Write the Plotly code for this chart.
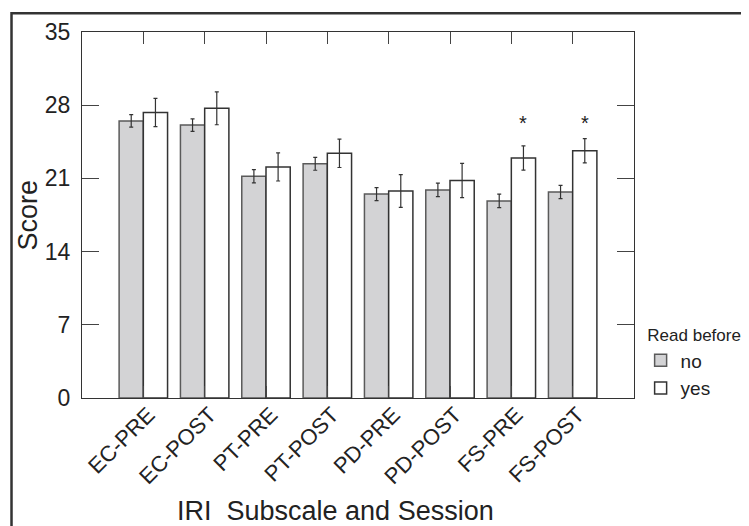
import plotly.graph_objects as go

categories = ["EC-PRE", "EC-POST", "PT-PRE", "PT-POST", "PD-PRE", "PD-POST", "FS-PRE", "FS-POST"]
no_vals = [26.5, 26.1, 21.2, 22.4, 19.5, 19.9, 18.85, 19.7]
no_err = [0.6, 0.6, 0.63, 0.62, 0.62, 0.65, 0.64, 0.63]
yes_vals = [27.3, 27.7, 22.1, 23.4, 19.8, 20.8, 22.95, 23.65]
yes_err = [1.35, 1.57, 1.35, 1.36, 1.57, 1.63, 1.16, 1.16]
significant = [False, False, False, False, False, False, True, True]
star_level = 26.3
y_ticks = [0, 7, 14, 21, 28, 35]

FONT = "Liberation Sans, Arial, Helvetica, sans-serif"
TXT = "#222222"

fig = go.Figure()
fig.add_trace(go.Bar(
    name="no", x=categories, y=no_vals,
    marker=dict(color="#d3d3d5", line=dict(color="#5a5a5a", width=1.5)),
    error_y=dict(type="data", array=no_err, color="#333333", thickness=1.2, width=2),
))
fig.add_trace(go.Bar(
    name="yes", x=categories, y=yes_vals,
    marker=dict(color="#ffffff", line=dict(color="#333333", width=1.5)),
    error_y=dict(type="data", array=yes_err, color="#333333", thickness=1.2, width=2),
))

bargap = 0.21
half = (1 - bargap) / 4
annotations = []
for i, sig in enumerate(significant):
    if sig:
        annotations.append(dict(x=i + half, y=star_level, xref="x", yref="y", text="*",
                                showarrow=False, font=dict(size=20, color=TXT, family=FONT),
                                xanchor="center", yanchor="middle"))

annotations.append(dict(text="Score", x=-0.097, y=0.5, xref="paper", yref="paper",
                        textangle=-90, showarrow=False, xanchor="center", yanchor="middle",
                        font=dict(size=27, color=TXT, family=FONT)))
annotations.append(dict(text="IRI\u00a0 Subscale and Session", x=0.4585, y=-0.31,
                        xref="paper", yref="paper", showarrow=False,
                        xanchor="center", yanchor="middle",
                        font=dict(size=27, color=TXT, family=FONT)))

fig.update_layout(
    width=741, height=518,
    margin=dict(l=73.5, r=115.3, t=24, b=127.7, autoexpand=False),
    paper_bgcolor="white", plot_bgcolor="white",
    barmode="group", bargap=bargap, bargroupgap=0,
    font=dict(family=FONT, color=TXT),
    showlegend=True,
    legend=dict(
        title=dict(text="\u00a0Read before", font=dict(size=17, color=TXT, family=FONT)),
        font=dict(size=19, color=TXT, family=FONT),
        x=1.012, y=0.095, xanchor="left", yanchor="middle",
        bgcolor="rgba(0,0,0,0)", borderwidth=0, tracegroupgap=0,
    ),
    annotations=annotations,
    shapes=[dict(type="rect", xref="paper", yref="paper",
                 x0=-0.1277, x1=1.3, y0=-0.5, y1=1.051,
                 line=dict(color="#333333", width=2.5), fillcolor="rgba(0,0,0,0)")],
)

fig.update_xaxes(
    type="category", range=[-1, 8],
    showline=True, linecolor="#333333", linewidth=1.3, mirror="ticks",
    ticks="inside", ticklen=12, tickcolor="#444444", tickwidth=1.3,
    tickangle=-45, tickfont=dict(size=22, color=TXT, family=FONT),
    ticklabelstandoff=-6, ticklabelshift=5,
    showgrid=False, zeroline=False,
)
fig.update_yaxes(
    range=[0, 35], tickvals=y_ticks,
    showline=True, linecolor="#333333", linewidth=1.3, mirror="ticks",
    ticks="inside", ticklen=17, tickcolor="#444444", tickwidth=1.3,
    tickfont=dict(size=23, color=TXT, family=FONT), ticklabelstandoff=6,
    showgrid=False, zeroline=False,
)

fig.write_html("out.html")
